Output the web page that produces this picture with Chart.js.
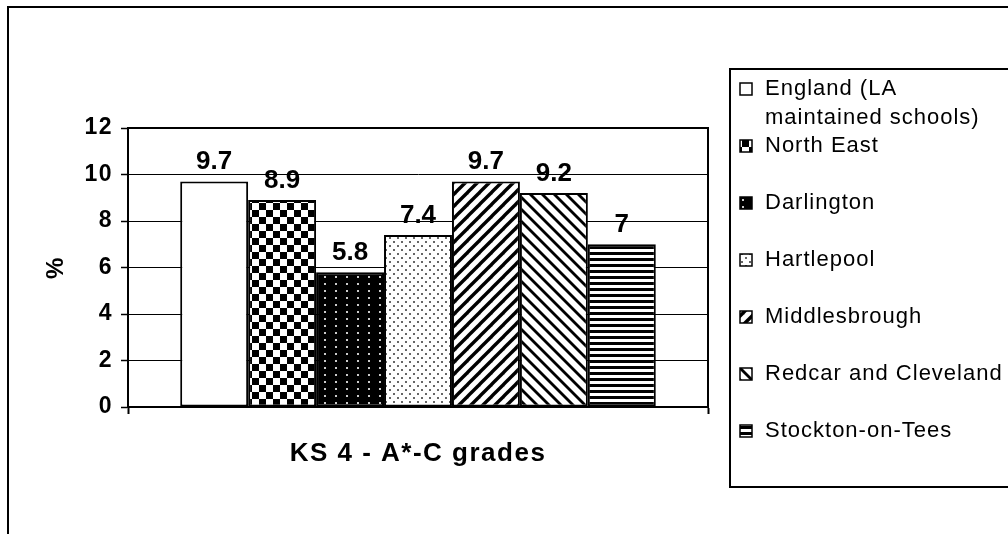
<!DOCTYPE html>
<html>
<head>
<meta charset="utf-8">
<script src="https://cdn.jsdelivr.net/npm/chart.js@4.4.1/dist/chart.umd.min.js"></script>
<style>
  body { margin: 0; background: #fff; }
  #wrap { width: 1008px; height: 534px; }
</style>
</head>
<body>
<div id="wrap"><canvas id="ksChart" width="1008" height="534"></canvas></div>
<script>
// data
const categories = ['KS 4 - A*-C grades'];
const areas = ['England (LA\nmaintained schools)', 'North East', 'Darlington', 'Hartlepool',
    'Middlesbrough', 'Redcar and Cleveland', 'Stockton-on-Tees'];
const values = [9.7, 8.9, 5.8, 7.4, 9.7, 9.2, 7];
const yTicks = [0, 2, 4, 6, 8, 10, 12];

// fill patterns, one per bar
function makeTile(w, h, draw) {
    const c = document.createElement('canvas');
    c.width = w;
    c.height = h;
    const t = c.getContext('2d');
    t.fillStyle = '#fff';
    t.fillRect(0, 0, w, h);
    draw(t, w, h);
    return document.createElement('canvas').getContext('2d').createPattern(c, 'repeat');
}

const patterns = [
    '#ffffff',
    makeTile(14, 14, (t) => {
        t.fillStyle = '#000';
        t.fillRect(0, 0, 7, 7);
        t.fillRect(7, 7, 7, 7);
    }),
    makeTile(11, 7, (t, w, h) => {
        t.fillStyle = '#000';
        t.fillRect(0, 0, w, h);
        t.fillStyle = '#ccc';
        t.fillRect(5, 3, 2, 2);
    }),
    makeTile(8, 8, (t) => {
        t.fillStyle = '#666';
        t.fillRect(1, 1, 2, 2);
        t.fillRect(5, 5, 2, 2);
    }),
    makeTile(12, 12, (t) => {
        t.strokeStyle = '#000';
        t.lineWidth = 3.4;
        [[-6, 6, 6, -6], [0, 12, 12, 0], [6, 18, 18, 6]].forEach(l => {
            t.beginPath(); t.moveTo(l[0], l[1]); t.lineTo(l[2], l[3]); t.stroke();
        });
    }),
    makeTile(12, 12, (t) => {
        t.strokeStyle = '#000';
        t.lineWidth = 2.8;
        [[-6, 6, 6, 18], [0, 0, 12, 12], [6, -6, 18, 6]].forEach(l => {
            t.beginPath(); t.moveTo(l[0], l[1]); t.lineTo(l[2], l[3]); t.stroke();
        });
    }),
    makeTile(6, 6, (t) => {
        t.fillStyle = '#000';
        t.fillRect(0, 0, 6, 3);
    })
];

const datasets = areas.map((name, i) => ({
    label: name,
    data: [values[i]],
    backgroundColor: patterns[i],
    borderColor: '#000',
    borderWidth: 2,
    borderSkipped: false,
    barPercentage: 1,
    categoryPercentage: 0.82
}));

// text spacing, frame, plot box, value labels and legend
const decorations = {
    id: 'decorations',
    beforeDraw(chart) {
        chart.ctx.letterSpacing = '1.5px';
    },
    beforeDatasetsDraw(chart) {
        chart.ctx.letterSpacing = '0px';
    },
    afterDatasetsDraw(chart) {
        const ctx = chart.ctx;
        const area = chart.chartArea;
        ctx.save();
        ctx.strokeStyle = '#000';
        ctx.lineWidth = 2;
        ctx.strokeRect(area.left, area.top, area.right - area.left, area.bottom - area.top);

        ctx.fillStyle = '#000';
        ctx.font = 'bold 26px Arial, "Liberation Sans", sans-serif';
        ctx.textAlign = 'center';
        ctx.textBaseline = 'alphabetic';
        chart.data.datasets.forEach((ds, i) => {
            const bar = chart.getDatasetMeta(i).data[0];
            ctx.fillText(String(ds.data[0]), bar.x, bar.y - 12);
        });
        ctx.restore();
    },
    afterDraw(chart) {
        const ctx = chart.ctx;
        ctx.save();
        ctx.strokeStyle = '#000';
        ctx.lineWidth = 2;
        // outer frame
        ctx.strokeRect(8, 7, 1200, 1200);
        // legend box
        ctx.strokeRect(730, 69, 400, 418);

        ctx.font = '22px Arial, "Liberation Sans", sans-serif';
        ctx.letterSpacing = '1px';
        ctx.textAlign = 'left';
        ctx.textBaseline = 'middle';
        chart.data.datasets.forEach((ds, i) => {
            const y = i === 0 ? 89 : 146 + (i - 1) * 57;
            ctx.fillStyle = ds.backgroundColor;
            ctx.fillRect(740, y - 6, 12, 12);
            ctx.lineWidth = 1.5;
            ctx.strokeRect(740, y - 6, 12, 12);
            ctx.fillStyle = '#000';
            ds.label.split('\n').forEach((line, k) => {
                ctx.fillText(line, 765, y + k * 29);
            });
        });
        ctx.restore();
    }
};

const ctx = document.getElementById('ksChart').getContext('2d');

const ksChart = new Chart(ctx, {
    type: 'bar',
    data: {
        labels: categories,
        datasets: datasets
    },
    options: {
        responsive: false,
        animation: false,
        devicePixelRatio: 1,
        layout: {
            padding: { left: 0, top: 128, right: 300, bottom: 0 }
        },
        plugins: {
            legend: { display: false },
            tooltip: { enabled: false }
        },
        scales: {
            x: {
                grid: {
                    offset: true,
                    drawOnChartArea: false,
                    drawTicks: true,
                    tickLength: 7,
                    tickColor: '#000',
                    tickWidth: 2
                },
                border: { color: '#000', width: 2 },
                ticks: {
                    color: '#000',
                    padding: 24,
                    font: { family: 'Arial, "Liberation Sans", sans-serif', size: 26, weight: 'bold' }
                },
                afterFit(scale) { scale.height = 127; }
            },
            y: {
                min: 0,
                max: 12,
                afterBuildTicks(scale) {
                    scale.ticks = yTicks.map(v => ({ value: v }));
                },
                grid: {
                    color: '#000',
                    lineWidth: 1,
                    tickLength: 7,
                    tickColor: '#000',
                    tickWidth: 1.5
                },
                border: { color: '#000', width: 2 },
                ticks: {
                    color: '#000',
                    padding: 8,
                    font: { family: 'Arial, "Liberation Sans", sans-serif', size: 23, weight: 'bold' }
                },
                title: {
                    display: true,
                    text: '%',
                    color: '#000',
                    padding: { top: 42, bottom: 0 },
                    font: { family: 'Arial, "Liberation Sans", sans-serif', size: 24, weight: 'bold' }
                },
                afterFit(scale) { scale.width = 128; }
            }
        }
    },
    plugins: [decorations]
});
</script>
</body>
</html>
